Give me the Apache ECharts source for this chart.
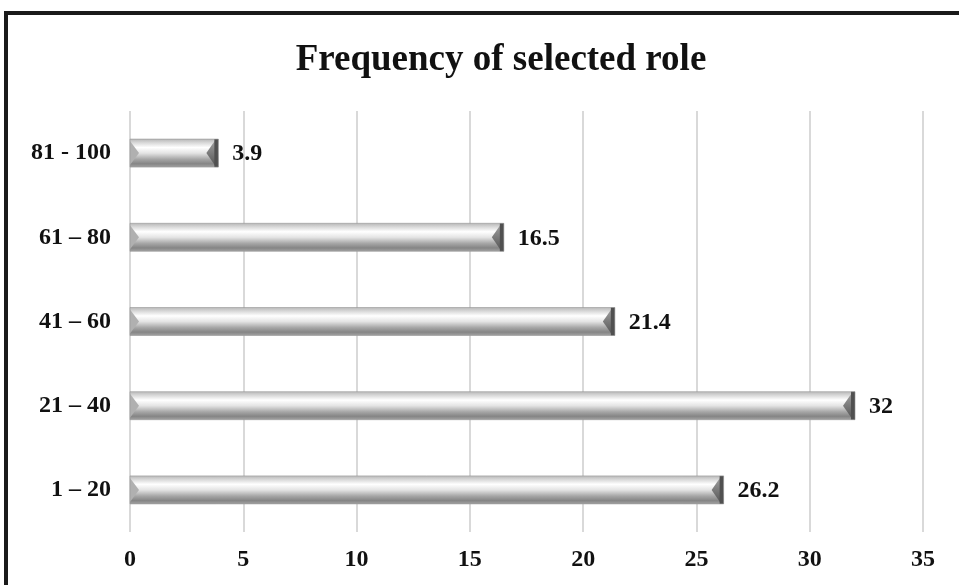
<!DOCTYPE html>
<html>
<head>
<meta charset="utf-8">
<script src="https://cdn.jsdelivr.net/npm/echarts@6/dist/echarts.min.js"></script>
<style>
  html, body { margin: 0; padding: 0; background: #fff; }
  #chart { width: 959px; height: 585px; }
</style>
</head>
<body>
<div id="chart"></div>
<script>
// Age groups, bottom to top on the category axis
const categories = ['1 – 20', '21 – 40', '41 – 60', '61 – 80', '81 - 100'];
// Frequency (%) for each group
const frequencies = [26.2, 32, 21.4, 16.5, 3.9];
// Value axis ticks
const axisMin = 0;
const axisMax = 35;
const axisStep = 5;

const SERIF = '"Liberation Serif", "DejaVu Serif", serif';
const LABEL_SIZE = 24;

// Bevelled grey bar: vertical gradient body, light left bevel, dark right cap, value label
function renderBevelBar(params, api) {
  const idx = api.value(0);
  const val = api.value(1);
  const start = api.coord([0, idx]);
  const end = api.coord([val, idx]);
  const h = 28;
  const x0 = start[0];
  const x1 = end[0];
  const y0 = start[1] - h / 2;
  const y1 = y0 + h;
  const yc = start[1];
  const b = 9;
  const body = new echarts.graphic.LinearGradient(0, 0, 0, 1, [
    { offset: 0, color: '#b8b8b8' },
    { offset: 0.12, color: '#d6d6d6' },
    { offset: 0.3, color: '#ffffff' },
    { offset: 0.5, color: '#e4e4e4' },
    { offset: 0.72, color: '#a6a6a6' },
    { offset: 0.88, color: '#858585' },
    { offset: 1, color: '#a2a2a2' }
  ]);
  const rightCap = new echarts.graphic.LinearGradient(0, 0, 0, 1, [
    { offset: 0, color: '#a0a0a0' },
    { offset: 1, color: '#555555' }
  ]);
  return {
    type: 'group',
    children: [
      { type: 'rect', shape: { x: x0, y: y0, width: x1 - x0, height: h }, style: { fill: body } },
      { type: 'polygon', shape: { points: [[x0, y0 + 2], [x0 + b, yc], [x0, y1 - 2]] }, style: { fill: '#b0b0b0' } },
      { type: 'polygon', shape: { points: [[x1 - 3, y0 + 1], [x1 - 3 - b, yc], [x1 - 3, y1 - 1]] }, style: { fill: rightCap } },
      { type: 'rect', shape: { x: x1 - 4, y: y0, width: 4, height: h }, style: { fill: '#505050' } },
      { type: 'rect', shape: { x: x0, y: y0, width: x1 - x0, height: h }, style: { fill: 'none', stroke: 'rgba(150,150,150,0.6)', lineWidth: 1 } },
      {
        type: 'text',
        x: x1 + 14,
        y: yc + 1,
        style: {
          text: String(val),
          fontFamily: SERIF, fontWeight: 'bold', fontSize: LABEL_SIZE, fill: '#111',
          align: 'left', verticalAlign: 'middle'
        }
      }
    ]
  };
}

const chart = echarts.init(document.getElementById('chart'), null, { renderer: 'canvas' });
chart.setOption({
  backgroundColor: '#ffffff',
  animation: false,
  title: {
    text: 'Frequency of selected role',
    left: 496,
    top: 37,
    textAlign: 'center',
    textStyle: { fontFamily: SERIF, fontWeight: 'bold', fontSize: 37, color: '#111' }
  },
  grid: { left: 130, right: 36, top: 111, bottom: 53, containLabel: false },
  xAxis: {
    type: 'value',
    min: axisMin,
    max: axisMax,
    interval: axisStep,
    axisLine: { show: false },
    axisTick: { show: false },
    splitLine: { show: true, lineStyle: { color: '#d9d9d9', width: 2 } },
    axisLabel: { margin: 16, fontFamily: SERIF, fontWeight: 'bold', fontSize: LABEL_SIZE, color: '#111' }
  },
  yAxis: {
    type: 'category',
    data: categories,
    axisLine: { show: false },
    axisTick: { show: false },
    axisLabel: { margin: 19, fontFamily: SERIF, fontWeight: 'bold', fontSize: LABEL_SIZE, color: '#111' }
  },
  series: [{
    type: 'custom',
    renderItem: renderBevelBar,
    encode: { x: 1, y: 0 },
    data: frequencies.map((v, i) => [i, v])
  }],
  graphic: [{
    type: 'rect',
    shape: { x: 6, y: 13, width: 980, height: 600 },
    style: { fill: 'none', stroke: '#1a1a1a', lineWidth: 4 },
    z: 100
  }]
});
</script>
</body>
</html>
